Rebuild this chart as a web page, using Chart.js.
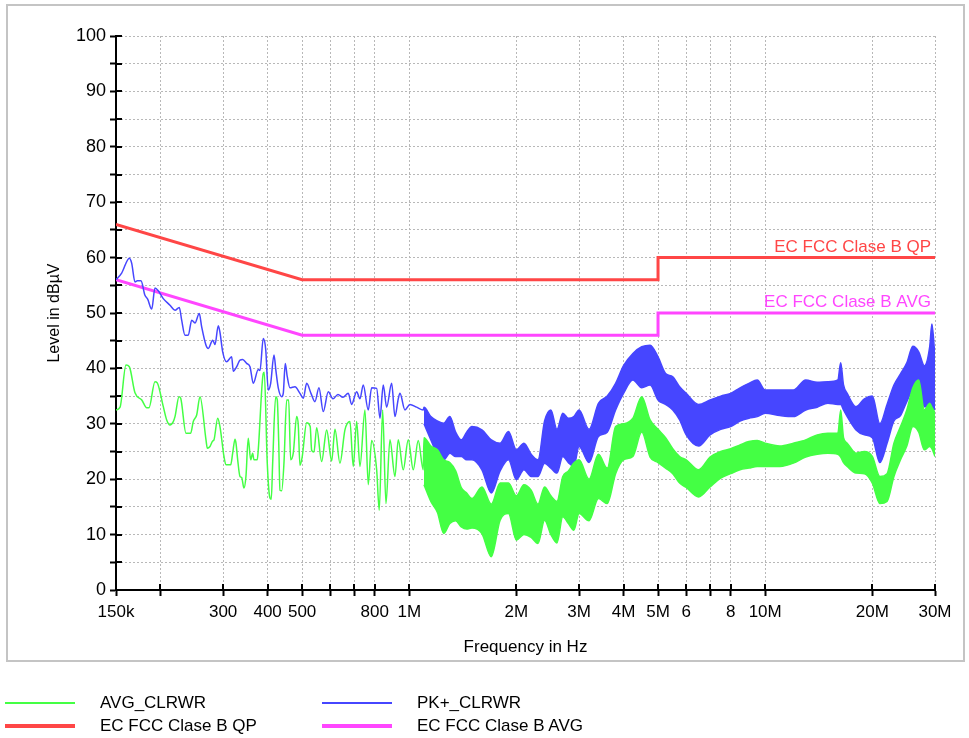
<!DOCTYPE html>
<html>
<head>
<meta charset="utf-8">
<script src="https://cdn.jsdelivr.net/npm/chart.js@4.4.1/dist/chart.umd.min.js"></script>
<style>
  html, body { margin: 0; padding: 0; background: #fff; }
  #wrap { position: relative; width: 969px; height: 738px; font-family: "Liberation Sans", Arial, sans-serif; }
  #chart { position: absolute; left: 0; top: 0; }
  .lg-line { position: absolute; height: 0; }
  .lg-text { position: absolute; font-size: 17px; color: #000; line-height: 20px; white-space: nowrap; }
</style>
</head>
<body>
<div id="wrap">
  <canvas id="chart" width="969" height="738"></canvas>
</div>
<script>
// frequencies in MHz, levels in dBuV
var avgThinFreq = [0.150, 0.154, 0.160, 0.1635, 0.1696, 0.1772, 0.1830, 0.1857, 0.1930, 0.1959,
  0.2037, 0.2082, 0.2127, 0.2173, 0.2197, 0.2255, 0.2280, 0.2359, 0.2432, 0.2473,
  0.2528, 0.2583, 0.2685, 0.2708, 0.2755, 0.2804, 0.2827, 0.2896, 0.2939, 0.3016,
  0.3056, 0.3150, 0.3191, 0.3239, 0.3260, 0.3296, 0.3345, 0.3382, 0.3433, 0.3477,
  0.3529, 0.3585, 0.3631, 0.3662, 0.3741, 0.3765, 0.3889, 0.3914, 0.3991, 0.4061,
  0.4096, 0.4133, 0.4214, 0.4258, 0.4297, 0.4333, 0.4381, 0.4446, 0.4525, 0.4584,
  0.4643, 0.4722, 0.4827, 0.4877, 0.4931, 0.5002, 0.5150, 0.5268, 0.5319, 0.5399,
  0.5494, 0.5674, 0.5861, 0.6053, 0.6184, 0.6387, 0.6597, 0.6814, 0.6961, 0.7116,
  0.7269, 0.7508, 0.7670, 0.7841, 0.8099, 0.8236, 0.8419, 0.8601, 0.8826, 0.9116,
  0.9313, 0.9619, 0.9935, 1.0262, 1.0599, 1.0947];
var avgThinLevel = [32.5, 33, 40.6, 40.3, 35.6, 34.3, 32.9, 32.9, 37.6, 37.4,
  33.1, 30.7, 29.8, 30.4, 31.3, 34.9, 34.6, 28.3, 28.3, 30.4,
  31.6, 34.9, 27.1, 25.6, 25.9, 26.9, 27.1, 31, 29.5, 24.1,
  22.6, 22.6, 24.7, 27.2, 26.5, 23.5, 20.5, 20.3, 18.4, 20.5,
  27.4, 23.5, 24.7, 23.5, 23.5, 25.3, 39.1, 39.3, 22.9, 16.6,
  16.4, 22.9, 34.9, 34.3, 26.9, 18, 17.9, 22.9, 34.3, 34.3,
  23.5, 24.7, 31.3, 29.8, 22.5, 24, 30.2, 29.5, 25.2, 24.9,
  29.3, 23.2, 28.9, 23.3, 29, 22.9, 28.9, 30.4, 22.3, 30.4,
  22.3, 32.5, 19, 27, 21.7, 14.4, 32.5, 15.6, 27.1, 20.5,
  27.1, 21.7, 27.1, 21.7, 27, 21.7];

var pkThinFreq = [0.150, 0.1556, 0.1635, 0.1660, 0.1696, 0.1722, 0.1763, 0.1809, 0.1841, 0.1890,
  0.1930, 0.1972, 0.2037, 0.2127, 0.2197, 0.2259, 0.2294, 0.2344, 0.2394, 0.2448,
  0.2500, 0.2571, 0.2611, 0.2685, 0.2725, 0.2804, 0.2846, 0.2907, 0.2939, 0.2991,
  0.3069, 0.3170, 0.3203, 0.3275, 0.3345, 0.3404, 0.3493, 0.3569, 0.3646, 0.3765,
  0.3807, 0.3889, 0.3950, 0.4017, 0.4080, 0.4168, 0.4222, 0.4285, 0.4381, 0.4426,
  0.4484, 0.4542, 0.4622, 0.4774, 0.4931, 0.5038, 0.5150, 0.5295, 0.5433, 0.5576,
  0.5733, 0.5922, 0.6104, 0.6305, 0.6512, 0.6740, 0.6889, 0.7116, 0.7269, 0.7426,
  0.7670, 0.7841, 0.8099, 0.8273, 0.8452, 0.8640, 0.8924, 0.9116, 0.9313, 0.9416,
  0.9725, 1.0045, 1.0490, 1.0947];
var pkThinLevel = [56, 57.2, 59.9, 59, 55.6, 55.8, 55.8, 53.2, 52.5, 50.7,
  54.5, 54, 52.6, 51.4, 50.5, 51, 48.7, 46, 46, 48.7,
  48.2, 49.9, 47.5, 44.2, 43.6, 45.1, 44.3, 47.7, 46.5, 43,
  41.2, 42.1, 39.5, 40.3, 41.5, 41.6, 40.9, 40.3, 37.3, 39.8,
  39.6, 45.4, 43.5, 36.1, 37.3, 42.4, 39.5, 36.5, 34.9, 35.5,
  40.9, 38.5, 36.5, 36.7, 35.5, 34.6, 37.3, 35.5, 34, 36.5,
  32.2, 35.8, 34.5, 35.3, 34.8, 35.5, 33.5, 35.8, 34.5, 37,
  32.5, 36.5, 36.4, 31, 37, 33, 37.3, 31.3, 34.5, 35.5,
  32.5, 33.5, 33, 32.5];

// dense part of the sweep: upper and lower edge of each trace
var bandFreq = [1.1, 1.15, 1.2, 1.25, 1.3, 1.35, 1.4, 1.45, 1.5, 1.6,
  1.7, 1.8, 1.9, 2.0, 2.1, 2.2, 2.3, 2.4, 2.5, 2.6,
  2.7, 2.8, 2.9, 3.0, 3.2, 3.4, 3.6, 3.8, 4.0, 4.25,
  4.5, 4.75, 5.0, 5.25, 5.5, 5.75, 6, 6.5, 7, 7.5,
  8, 8.5, 9, 9.5, 10, 11, 12, 13, 14, 15,
  16, 16.3, 16.6, 17, 18, 19, 20, 21, 22, 23,
  24, 25, 26, 27, 28, 29, 29.4, 30];
var pkBandHigh = [33, 31.3, 30.5, 30.1, 31.3, 28.5, 27.1, 28.5, 29.5, 28.9,
  27.1, 26.5, 28.6, 25.3, 26.5, 24.5, 23.5, 30.5, 32.5, 29,
  31.9, 31, 31.3, 32.5, 29, 33.7, 35, 37.3, 40.5, 42.7,
  43.9, 44.2, 42.1, 39.1, 38.5, 36.7, 35.5, 33.5, 34.3, 35,
  35.5, 36.5, 37.3, 37.9, 36.1, 36.1, 36.1, 37.9, 37.5, 37.6,
  37.9, 41, 37, 35.5, 33.1, 34.5, 35, 30, 33.5, 37,
  39, 41, 44, 43, 40.5, 44, 48, 42];
var pkBandLow = [30, 27.1, 24.5, 23.5, 24.7, 24.1, 24.1, 23.5, 23.5, 21.7,
  17.5, 21.5, 23.5, 19.9, 21.7, 20.5, 20.5, 22.9, 22, 21.1,
  24.1, 23, 22.3, 25.9, 23, 27.7, 28.5, 32.5, 35.5, 37.9,
  36.5, 37, 34.3, 33.5, 32.5, 30.7, 28, 26, 28, 29,
  29.5, 30.5, 31, 31.3, 31.9, 31.5, 31.3, 32.5, 33, 33.7,
  33.5, 33.5, 32.5, 31.3, 28.9, 28, 27.5, 23, 26.5, 30.5,
  31.5, 34, 36, 36, 33.1, 33.1, 33, 32.5];
var avgBandHigh = [27.5, 26, 25.3, 23.5, 23, 21.5, 18.5, 17.5, 16.5, 18.6,
  15.5, 19.3, 19.3, 17, 19, 18, 15.5, 18.6, 17, 16,
  20.5, 21.5, 22.9, 23.5, 20, 24.5, 22, 29.5, 30, 31,
  34.9, 30.7, 29, 27.5, 25.5, 24.1, 23.5, 21.7, 24, 25,
  25.5, 26.2, 26.8, 27, 26.5, 26, 26.5, 27.1, 28, 28.3,
  28.3, 32.5, 27.5, 26.5, 24.7, 25, 24.1, 20.5, 21, 26.5,
  29.5, 32.5, 36.5, 37.9, 32.5, 33.7, 33, 32];
var avgBandLow = [19, 16, 14, 10.2, 12, 12.5, 11.4, 11, 11.2, 10.2,
  6, 12.6, 13.8, 9, 10, 9.5, 8.4, 12.6, 10, 8.5,
  13.2, 12, 10.8, 13.8, 12.5, 16.5, 15.6, 21, 23.5, 24.1,
  28.5, 24, 23, 22, 21, 19.3, 18.5, 16.8, 18.6, 20.2,
  21, 21.7, 22, 22.3, 22.3, 22.3, 22.9, 24, 24.5, 24.7,
  24.5, 24, 23, 22.3, 21.1, 21, 19.3, 15.6, 16, 20.5,
  23.5, 26, 29.5, 28.5, 25.3, 25.9, 25.5, 24.1];

var limitFreq = [0.15, 0.5, 5, 5, 30];
var qpLimit = [66, 56, 56, 60, 60];
var avgLimit = [56, 46, 46, 50, 50];

var xTickValues = [0.15, 0.2, 0.3, 0.4, 0.5, 0.6, 0.7, 0.8, 1, 2, 3, 4, 5, 6, 7, 8, 10, 20, 30];
var xTickLabels = ["150k", "", "300", "400", "500", "", "", "800", "1M", "2M", "3M", "4M", "5M", "6", "", "8", "10M", "20M", "30M"];

var seriesNames = ["AVG_CLRWR", "PK+_CLRWR", "EC FCC Clase B QP", "EC FCC Clase B AVG"];
var seriesColors = ["#44ff44", "#4646ff", "#ff4646", "#ff46ff"];

function pts(f, v) {
  return f.map(function (x, i) { return { x: x, y: v[i] }; });
}

var fontFamily = '"Liberation Sans", Arial, sans-serif';
Chart.defaults.font.family = fontFamily;
Chart.defaults.color = "#000";

var gridOpts = {
  color: "#b8b8b8",
  lineWidth: 1,
  tickColor: "#000",
  tickLength: 6,
  tickWidth: 2,
  tickBorderDash: []
};
var borderOpts = { display: true, color: "#000", width: 2, dash: [2, 2] };

var framePlugin = {
  id: "frame",
  beforeDraw: function (chart) {
    var c = chart.ctx;
    c.save();
    c.strokeStyle = "#c4c4c4";
    c.lineWidth = 2;
    c.strokeRect(7, 5, 957, 656);
    c.restore();
  }
};

// tick marks cross the axis lines
var crossTicks = {
  id: "crossTicks",
  beforeDatasetsDraw: function (chart) {
    var c = chart.ctx, xs = chart.scales.x, ys = chart.scales.y;
    c.save();
    c.strokeStyle = "#000";
    c.lineWidth = 2;
    c.beginPath();
    ys.ticks.forEach(function (t) {
      var py = Math.round(ys.getPixelForValue(t.value));
      c.moveTo(ys.right, py);
      c.lineTo(ys.right + 6, py);
    });
    xs.ticks.forEach(function (t) {
      var px = Math.round(xs.getPixelForValue(t.value));
      c.moveTo(px, xs.top);
      c.lineTo(px, xs.top - 6);
    });
    c.stroke();
    c.restore();
  }
};

var limitLabels = {
  id: "limitLabels",
  afterDatasetsDraw: function (chart) {
    var c = chart.ctx, xs = chart.scales.x, ys = chart.scales.y;
    var xr = xs.getPixelForValue(limitFreq[limitFreq.length - 1]) - 4;
    c.save();
    c.font = "17px " + fontFamily;
    c.textAlign = "right";
    c.textBaseline = "alphabetic";
    c.fillStyle = seriesColors[2];
    c.fillText(seriesNames[2], xr, ys.getPixelForValue(qpLimit[qpLimit.length - 1]) - 6);
    c.fillStyle = seriesColors[3];
    c.fillText(seriesNames[3], xr, ys.getPixelForValue(avgLimit[avgLimit.length - 1]) - 6);
    c.restore();
  }
};

new Chart(document.getElementById("chart"), {
  type: "line",
  data: {
    datasets: [{
      label: seriesNames[0],
      data: pts(avgThinFreq, avgThinLevel).concat(pts(bandFreq, avgBandHigh)),
      borderColor: seriesColors[0],
      borderWidth: 1.5,
      pointRadius: 0,
      cubicInterpolationMode: "monotone",
      fill: false
    }, {
      label: seriesNames[0] + " low",
      data: pts(bandFreq, avgBandLow),
      borderColor: seriesColors[0],
      backgroundColor: seriesColors[0],
      borderWidth: 1.5,
      pointRadius: 0,
      cubicInterpolationMode: "monotone",
      fill: 0
    }, {
      label: seriesNames[1],
      data: pts(pkThinFreq, pkThinLevel).concat(pts(bandFreq, pkBandHigh)),
      borderColor: seriesColors[1],
      borderWidth: 1.5,
      pointRadius: 0,
      cubicInterpolationMode: "monotone",
      fill: false
    }, {
      label: seriesNames[1] + " low",
      data: pts(bandFreq, pkBandLow),
      borderColor: seriesColors[1],
      backgroundColor: seriesColors[1],
      borderWidth: 1.5,
      pointRadius: 0,
      cubicInterpolationMode: "monotone",
      fill: 2
    }, {
      label: seriesNames[2],
      data: pts(limitFreq, qpLimit),
      borderColor: seriesColors[2],
      borderWidth: 3,
      pointRadius: 0,
      fill: false
    }, {
      label: seriesNames[3],
      data: pts(limitFreq, avgLimit),
      borderColor: seriesColors[3],
      borderWidth: 3,
      pointRadius: 0,
      fill: false
    }]
  },
  options: {
    responsive: false,
    animation: false,
    devicePixelRatio: 1,
    layout: { padding: { top: 36, right: 34, bottom: 78, left: 0 } },
    elements: { line: { tension: 0 } },
    plugins: {
      legend: { display: false },
      tooltip: { enabled: false }
    },
    scales: {
      x: {
        type: "logarithmic",
        min: 0.15,
        max: 30,
        afterBuildTicks: function (s) {
          s.ticks = xTickValues.map(function (v) { return { value: v }; });
        },
        afterFit: function (s) { s.height = 70; },
        grid: gridOpts,
        border: borderOpts,
        ticks: {
          autoSkip: false,
          maxRotation: 0,
          padding: 6,
          color: "#000",
          font: { size: 17 },
          callback: function (v, i) { return xTickLabels[i]; }
        },
        title: {
          display: true,
          text: "Frequency in Hz",
          color: "#000",
          font: { size: 17 },
          padding: { top: 0, bottom: 2 }
        }
      },
      y: {
        min: 0,
        max: 100,
        afterFit: function (s) { s.width = 116; },
        grid: gridOpts,
        border: borderOpts,
        ticks: {
          stepSize: 5,
          padding: 4,
          color: "#000",
          font: { size: 18 },
          callback: function (v) { return v % 10 === 0 ? v : ""; }
        },
        title: {
          display: true,
          text: "Level in dBµV",
          color: "#000",
          font: { size: 16 },
          padding: { top: 45, bottom: 0 }
        }
      }
    }
  },
  plugins: [framePlugin, crossTicks, limitLabels]
});

// legend below the frame, two columns
var wrap = document.getElementById("wrap");
var lineW = [2, 2, 4, 4];
seriesNames.forEach(function (name, i) {
  var col = i % 2, row = Math.floor(i / 2);
  var x0 = col === 0 ? 5 : 322;
  var yc = row === 0 ? 703 : 726;
  var ln = document.createElement("div");
  ln.className = "lg-line";
  ln.style.left = x0 + "px";
  ln.style.width = "70px";
  ln.style.top = (yc - lineW[i] / 2) + "px";
  ln.style.borderTop = lineW[i] + "px solid " + seriesColors[i];
  wrap.appendChild(ln);
  var tx = document.createElement("div");
  tx.className = "lg-text";
  tx.style.left = (x0 + 95) + "px";
  tx.style.top = (yc - 10) + "px";
  tx.textContent = name;
  wrap.appendChild(tx);
});
</script>
</body>
</html>
